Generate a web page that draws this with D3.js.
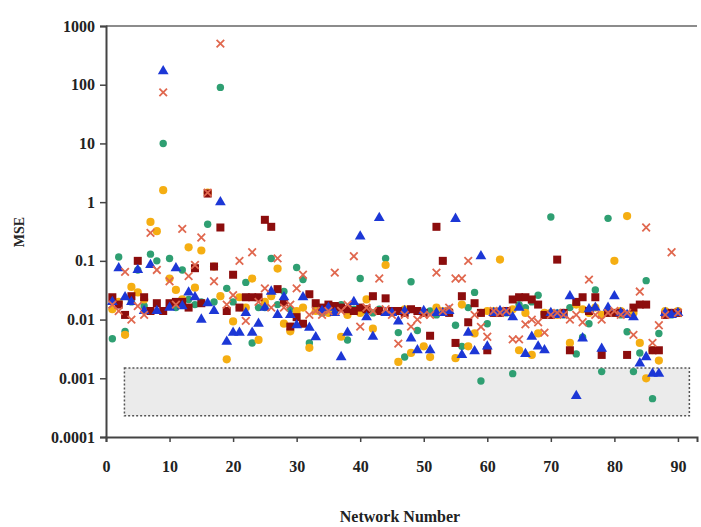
<!DOCTYPE html>
<html>
<head>
<meta charset="utf-8">
<script src="https://cdn.jsdelivr.net/npm/d3@7"></script>
<style>
  html, body { margin: 0; padding: 0; background: #fff; }
  svg { display: block; }
  .lbl { font-family: "Liberation Serif", "DejaVu Serif", serif; font-weight: bold; fill: #222; }
</style>
</head>
<body>
<svg id="chart" width="701" height="527"></svg>
<script>
// network numbers 1..90
const nets = d3.range(1, 91);

// MSE per network, one array per series
const greenDots = [
  0.0047, 0.116, 0.0063, 0.02, 0.07, 0.017, 0.13, 0.1, 10, 0.11,
  0.016, 0.07, 0.022, 0.018, 0.02, 0.42, 0.02, 90, 0.034, 0.02,
  0.016, 0.043, 0.004, 0.016, 0.016, 0.11, 0.018, 0.03, 0.015, 0.077,
  0.048, 0.004, 0.016, 0.013, 0.015, 0.014, 0.018, 0.0045, 0.015, 0.05,
  0.014, 0.013, 0.015, 0.11, 0.013, 0.006, 0.0023, 0.044, 0.0065, 0.013,
  0.014, 0.012, 0.1, 0.013, 0.008, 0.0035, 0.016, 0.029, 0.0009, 0.0085,
  0.013, 0.014, 0.013, 0.0012, 0.018, 0.016, 0.02, 0.026, 0.012, 0.56,
  0.013, 0.012, 0.016, 0.0026, 0.005, 0.0085, 0.032, 0.0013, 0.53, 0.013,
  0.012, 0.0062, 0.0013, 0.0027, 0.046, 0.00045, 0.0058, 0.013, 0.012, 0.013
];
const orangeDots = [
  0.015, 0.02, 0.0055, 0.036, 0.029, 0.022, 0.46, 0.32, 1.6, 0.05,
  0.032, 0.022, 0.17, 0.035, 0.15, 1.45, 0.08, 0.025, 0.0021, 0.0093,
  0.024, 0.016, 0.05, 0.0045, 0.02, 0.025, 0.074, 0.0085, 0.0063, 0.014,
  0.016, 0.0033, 0.014, 0.015, 0.013, 0.016, 0.0051, 0.012, 0.014, 0.013,
  0.022, 0.007, 0.014, 0.085, 0.014, 0.0019, 0.015, 0.0027, 0.014, 0.0035,
  0.0023, 0.016, 0.014, 0.014, 0.0022, 0.018, 0.0035, 0.0058, 0.013, 0.014,
  0.014, 0.105, 0.014, 0.015, 0.003, 0.013, 0.0025, 0.0058, 0.013, 0.013,
  0.012, 0.013, 0.004, 0.018, 0.015, 0.013, 0.016, 0.012, 0.013, 0.1,
  0.014, 0.58, 0.013, 0.004, 0.001, 0.003, 0.002, 0.014, 0.013, 0.014
];
const redSquares = [
  0.024, 0.018, 0.012, 0.025, 0.1, 0.024, 0.014, 0.019, 0.014, 0.019,
  0.02, 0.02, 0.016, 0.075, 0.019, 1.4, 0.08, 0.37, 0.014, 0.058,
  0.016, 0.024, 0.024, 0.024, 0.5, 0.38, 0.033, 0.02, 0.0076, 0.011,
  0.0085, 0.027, 0.019, 0.016, 0.018, 0.017, 0.016, 0.015, 0.014, 0.016,
  0.015, 0.025, 0.014, 0.023, 0.014, 0.014, 0.013, 0.015, 0.014, 0.013,
  0.0053, 0.38, 0.1, 0.013, 0.004, 0.025, 0.009, 0.019, 0.013, 0.003,
  0.013, 0.013, 0.014, 0.022, 0.024, 0.024, 0.022, 0.018, 0.012, 0.012,
  0.105, 0.013, 0.003, 0.02, 0.024, 0.014, 0.024, 0.0025, 0.013, 0.013,
  0.013, 0.0025, 0.016, 0.018, 0.018, 0.003, 0.003, 0.012, 0.013, 0.013
];
const blueTriangles = [
  0.02, 0.075, 0.024, 0.02, 0.07, 0.014, 0.085, 0.014, 170, 0.016,
  0.075, 0.017, 0.029, 0.024, 0.01, 0.019, 0.014, 1.0, 0.0042, 0.006,
  0.006, 0.013, 0.006, 0.0085, 0.016, 0.03, 0.012, 0.024, 0.012, 0.008,
  0.024, 0.0073, 0.005, 0.014, 0.016, 0.013, 0.0023, 0.006, 0.02, 0.26,
  0.011, 0.0051, 0.54, 0.013, 0.013, 0.0093, 0.014, 0.0048, 0.003, 0.014,
  0.003, 0.013, 0.013, 0.014, 0.52, 0.0025, 0.006, 0.0029, 0.12, 0.0035,
  0.013, 0.014, 0.013, 0.011, 0.016, 0.0026, 0.0051, 0.0035, 0.003, 0.013,
  0.012, 0.012, 0.025, 0.0005, 0.0048, 0.015, 0.016, 0.0032, 0.016, 0.025,
  0.013, 0.012, 0.011, 0.0018, 0.0023, 0.0012, 0.0012, 0.013, 0.012, 0.013
];
const redCrosses = [
  0.018, 0.014, 0.065, 0.01, 0.017, 0.012, 0.3, 0.07, 74, 0.045,
  0.018, 0.35, 0.055, 0.085, 0.25, 1.45, 0.045, 500, 0.018, 0.026,
  0.1, 0.0095, 0.14, 0.02, 0.034, 0.016, 0.11, 0.016, 0.018, 0.034,
  0.058, 0.012, 0.014, 0.012, 0.014, 0.063, 0.014, 0.018, 0.12, 0.0076,
  0.016, 0.014, 0.05, 0.015, 0.012, 0.0039, 0.012, 0.0076, 0.01, 0.012,
  0.012, 0.063, 0.014, 0.016, 0.05, 0.05, 0.1, 0.012, 0.0075, 0.0051,
  0.014, 0.013, 0.014, 0.0046, 0.0046, 0.0083, 0.01, 0.009, 0.006, 0.012,
  0.013, 0.012, 0.01, 0.012, 0.009, 0.048, 0.012, 0.01, 0.013, 0.014,
  0.012, 0.013, 0.0055, 0.03, 0.37, 0.004, 0.008, 0.012, 0.14, 0.013
];

const yTicks = [0.0001, 0.001, 0.01, 0.1, 1, 10, 100, 1000];
const yTickLabels = ['0.0001', '0.001', '0.01', '0.1', '1', '10', '100', '1000'];
const xTicks = [0, 10, 20, 30, 40, 50, 60, 70, 80, 90];

// shaded band (network range, MSE range)
const bandX = [2.9, 91.8];
const bandY = [0.00023, 0.0015];

const svg = d3.select('#chart');
const x = d3.scaleLinear().domain([0, 93]).range([106, 697]);
const y = d3.scaleLog().domain([0.0001, 1000]).range([437, 26]);

// shaded band
svg.append('rect')
  .attr('x', x(bandX[0])).attr('y', y(bandY[1]))
  .attr('width', x(bandX[1]) - x(bandX[0]))
  .attr('height', y(bandY[0]) - y(bandY[1]))
  .attr('fill', '#ebebeb')
  .attr('stroke', '#555').attr('stroke-width', 1.5)
  .attr('stroke-dasharray', '2,2');

// top border
svg.append('line')
  .attr('x1', x(0)).attr('x2', x(93)).attr('y1', y(1000)).attr('y2', y(1000))
  .attr('stroke', '#666').attr('stroke-width', 1.5);

// axes
const yAxis = svg.append('g').attr('transform', `translate(${x(0)},0)`)
  .call(d3.axisLeft(y).tickValues(yTicks).tickFormat((d, i) => yTickLabels[i]).tickSize(6).tickPadding(5));
const xAxis = svg.append('g').attr('transform', `translate(0,${y(0.0001)})`)
  .call(d3.axisBottom(x).tickValues(xTicks).tickSize(5).tickPadding(19));

[yAxis, xAxis].forEach(a => {
  a.select('.domain').attr('stroke', '#444').attr('stroke-width', 2);
  a.selectAll('.tick line').attr('stroke', '#444').attr('stroke-width', 1.5);
  a.selectAll('.tick text').attr('class', 'lbl').style('font-size', '16px')
    .attr('textLength', null);
});

// points
const plot = svg.append('g');
const pts = arr => nets.map((n, i) => ({ n, v: arr[i] }));

plot.selectAll('.g').data(pts(greenDots)).enter().append('circle')
  .attr('cx', d => x(d.n)).attr('cy', d => y(d.v)).attr('r', 3.7)
  .attr('fill', '#2f9f72');

plot.selectAll('.o').data(pts(orangeDots)).enter().append('circle')
  .attr('cx', d => x(d.n)).attr('cy', d => y(d.v)).attr('r', 4.1)
  .attr('fill', '#f5ae12');

plot.selectAll('.s').data(pts(redSquares)).enter().append('rect')
  .attr('x', d => x(d.n) - 4).attr('y', d => y(d.v) - 4)
  .attr('width', 8).attr('height', 8)
  .attr('fill', '#8c0d0d');

const tri = d3.symbol().type(d3.symbolTriangle).size(50);
plot.selectAll('.t').data(pts(blueTriangles)).enter().append('path')
  .attr('d', tri)
  .attr('transform', d => `translate(${x(d.n)},${y(d.v)})`)
  .attr('fill', '#1c37d6');

plot.selectAll('.x').data(pts(redCrosses)).enter().append('path')
  .attr('d', 'M-3.8,-3.8L3.8,3.8M-3.8,3.8L3.8,-3.8')
  .attr('transform', d => `translate(${x(d.n)},${y(d.v)})`)
  .attr('stroke', '#e0684f').attr('stroke-width', 1.8).attr('fill', 'none');

// axis titles
svg.append('text').attr('class', 'lbl')
  .attr('x', 400).attr('y', 522).attr('text-anchor', 'middle')
  .style('font-size', '16px').text('Network Number');
svg.append('text').attr('class', 'lbl')
  .attr('transform', 'translate(24,232) rotate(-90)').attr('text-anchor', 'middle')
  .style('font-size', '14px').text('MSE');
</script>
</body>
</html>
